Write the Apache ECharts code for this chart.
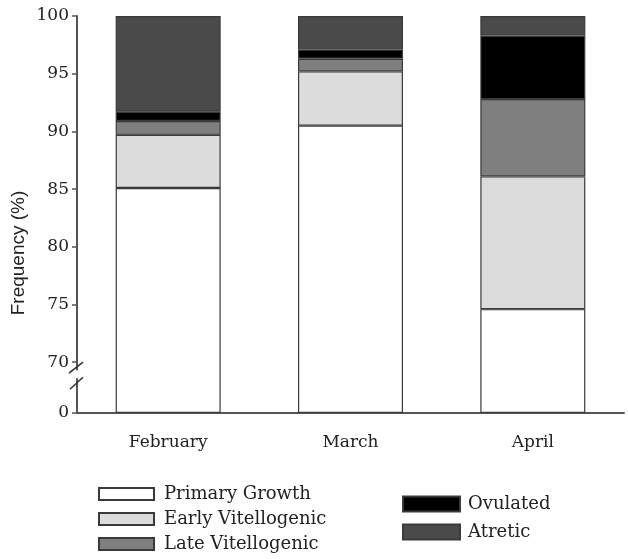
<!DOCTYPE html>
<html>
<head>
<meta charset="utf-8">
<script src="https://cdn.jsdelivr.net/npm/echarts@6/dist/echarts.min.js"></script>
<style>
  html, body { margin: 0; padding: 0; background: #fff; }
  #chart { width: 628px; height: 559px; }
</style>
</head>
<body>
<div id="chart"></div>
<script>
// Oocyte stage frequencies (%) per month
const months = ['February', 'March', 'April'];
const primaryGrowth     = [85.1, 90.5, 74.6];
const earlyVitellogenic = [4.6, 4.7, 11.5];
const lateVitellogenic  = [1.2, 1.1, 6.7];
const ovulated          = [0.8, 0.8, 5.5];
const atretic           = [8.3, 2.9, 1.7];

// Value axis: 0..100 with the span 0..70 collapsed
const yMin = 0, yMax = 100, yStep = 5;
const yBreak = [0, 70];

const SERIF = '"DejaVu Serif", "Liberation Serif", serif';
const INK = '#222';
const AXIS = '#555';
const EDGE = '#3a3a3a';

const chart = echarts.init(document.getElementById('chart'), null, { renderer: 'canvas' });

function stage(name, values, fill) {
  return {
    name: name,
    type: 'bar',
    stack: 'stages',
    barWidth: 105,
    data: values,
    itemStyle: { color: fill, borderColor: EDGE, borderWidth: 1.2 },
    emphasis: { disabled: true }
  };
}

chart.setOption({
  animation: false,
  backgroundColor: '#fff',
  grid: { left: 77, right: 4, top: 16, bottom: 146, containLabel: false },
  legend: [
    {
      data: ['Primary Growth', 'Early Vitellogenic', 'Late Vitellogenic'],
      orient: 'vertical', left: 98, top: 485, padding: 0,
      itemWidth: 55, itemHeight: 12, itemGap: 7,
      icon: 'rect', selectedMode: false,
      textStyle: { fontFamily: SERIF, fontSize: 18, color: INK, lineHeight: 18, padding: [0, 0, 0, 5] }
    },
    {
      data: ['Ovulated', 'Atretic'],
      orient: 'vertical', left: 402, top: 495, padding: 0,
      itemWidth: 57, itemHeight: 15, itemGap: 10,
      icon: 'rect', selectedMode: false,
      textStyle: { fontFamily: SERIF, fontSize: 18, color: INK, lineHeight: 18, padding: [0, 0, 0, 3] }
    }
  ],
  xAxis: {
    type: 'category',
    data: months,
    axisLine: { lineStyle: { color: AXIS, width: 2 } },
    axisTick: { show: false },
    axisLabel: { fontFamily: SERIF, fontSize: 17, color: INK, margin: 21 }
  },
  yAxis: {
    type: 'value',
    min: yMin, max: yMax, interval: yStep,
    breaks: [{ start: yBreak[0], end: yBreak[1], gap: 4.4 }],
    breakArea: { show: false },
    axisLine: { show: true, breakLine: false, lineStyle: { color: AXIS, width: 2 } },
    axisTick: { show: true, length: 5, lineStyle: { color: AXIS, width: 1.5 } },
    axisLabel: { fontFamily: SERIF, fontSize: 17, color: INK, margin: 8 },
    splitLine: { show: false }
  },
  series: [
    stage('Primary Growth', primaryGrowth, '#ffffff'),
    stage('Early Vitellogenic', earlyVitellogenic, '#dcdcdc'),
    stage('Late Vitellogenic', lateVitellogenic, '#7f7f7f'),
    stage('Ovulated', ovulated, '#000000'),
    stage('Atretic', atretic, '#4a4a4a')
  ]
});

// Axis-break marks and the y-axis title
const axisX = 77;
const yTop = chart.convertToPixel({ yAxisIndex: 0 }, yBreak[1]);
const yBottom = chart.convertToPixel({ yAxisIndex: 0 }, yBreak[0]);
chart.setOption({
  graphic: [
    {
      type: 'line', z: 99,
      shape: { x1: axisX, y1: yTop, x2: axisX, y2: yBottom },
      style: { stroke: AXIS, lineWidth: 2 }
    },
    {
      type: 'rect', z: 100,
      shape: { x: axisX - 2, y: yTop + 8, width: 4, height: 8 },
      style: { fill: '#fff' }
    },
    {
      type: 'line', z: 101,
      shape: { x1: axisX - 8, y1: yTop + 11, x2: axisX + 6, y2: yTop },
      style: { stroke: '#333', lineWidth: 1.6 }
    },
    {
      type: 'line', z: 101,
      shape: { x1: axisX - 7, y1: yTop + 27, x2: axisX + 6, y2: yTop + 15 },
      style: { stroke: '#333', lineWidth: 1.6 }
    },
    {
      type: 'text', z: 101,
      x: 19, y: 253, rotation: Math.PI / 2,
      style: {
        text: 'Frequency (%)',
        font: '19px "Liberation Sans", Arial, sans-serif',
        fill: INK, textAlign: 'center', textVerticalAlign: 'middle'
      }
    }
  ]
});
</script>
</body>
</html>
